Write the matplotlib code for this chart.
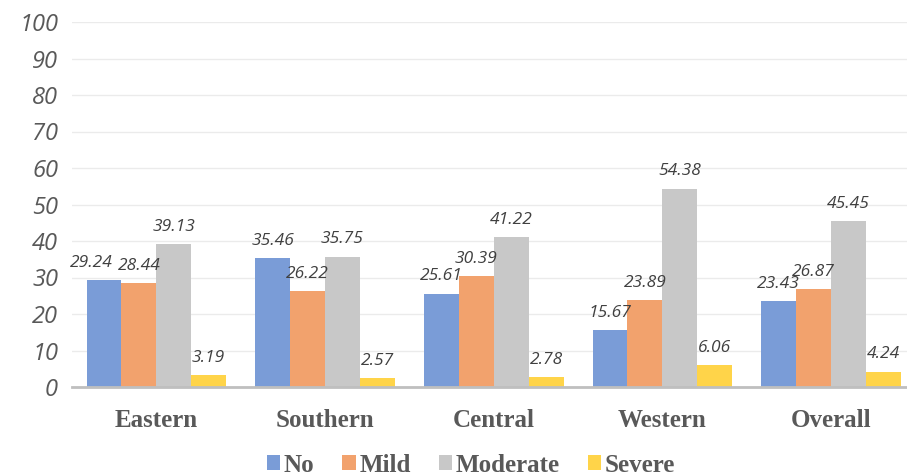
import numpy as np
import matplotlib.pyplot as plt

# Depression severity (%) by region
regions = ['Eastern', 'Southern', 'Central', 'Western', 'Overall']
no_dep = [29.24, 35.46, 25.61, 15.67, 23.43]
mild = [28.44, 26.22, 30.39, 23.89, 26.87]
moderate = [39.13, 35.75, 41.22, 54.38, 45.45]
severe = [3.19, 2.57, 2.78, 6.06, 4.24]

series = [('No', no_dep, '#7A9CD7'),
          ('Mild', mild, '#F2A26D'),
          ('Moderate', moderate, '#C8C8C8'),
          ('Severe', severe, '#FFD449')]

fig = plt.figure(figsize=(9.07, 4.75), dpi=100)
ax = fig.add_axes([72 / 907, 1 - 387 / 475, 1 - 72 / 907, (387 - 22) / 475])

x = np.arange(len(regions))
width = 0.207
for i, (name, vals, color) in enumerate(series):
    pos = x + (i - 1.5) * width
    ax.bar(pos, vals, width, color=color, label=name, zorder=2)
    for j, (px, v) in enumerate(zip(pos, vals)):
        # nudge the first label left so it clears its neighbour
        dx = -9 if (i == 0 and j == 0) else 0
        ax.annotate(f'{v:.2f}', (px, v), xytext=(dx, 6.5), textcoords='offset points',
                    ha='center', va='bottom', fontsize=12.5, style='italic',
                    color='#404040', family='Open Sans')

ax.set_ylim(0, 100)
ax.set_xlim(-0.5, 4.45)
ax.set_yticks(range(0, 101, 10))
ax.set_yticklabels([str(t) for t in range(0, 101, 10)], fontsize=17,
                   style='italic', color='#595959', family='Open Sans')
ax.set_xticks(x)
ax.set_xticklabels(regions, fontsize=18, fontweight='bold', color='#595959',
                   family='Liberation Serif')
ax.tick_params(axis='both', length=0)
ax.tick_params(axis='x', pad=16)
ax.tick_params(axis='y', pad=10)

ax.grid(axis='y', color='#EBEBEB', linewidth=1, zorder=0)
for s in ['top', 'right', 'left']:
    ax.spines[s].set_visible(False)
ax.spines['bottom'].set_color('#BFBFBF')
ax.spines['bottom'].set_linewidth(2)
ax.spines['bottom'].set_zorder(3)

leg = fig.legend(loc='center', bbox_to_anchor=(471 / 907, 1 - 465 / 475), ncol=4,
                 frameon=False, handlelength=0.55, handleheight=0.55,
                 handletextpad=0.15, columnspacing=1.1,
                 prop={'family': 'Liberation Serif', 'weight': 'bold', 'size': 18})
for t in leg.get_texts():
    t.set_color('#595959')

fig.savefig('out.png', dpi=100)
